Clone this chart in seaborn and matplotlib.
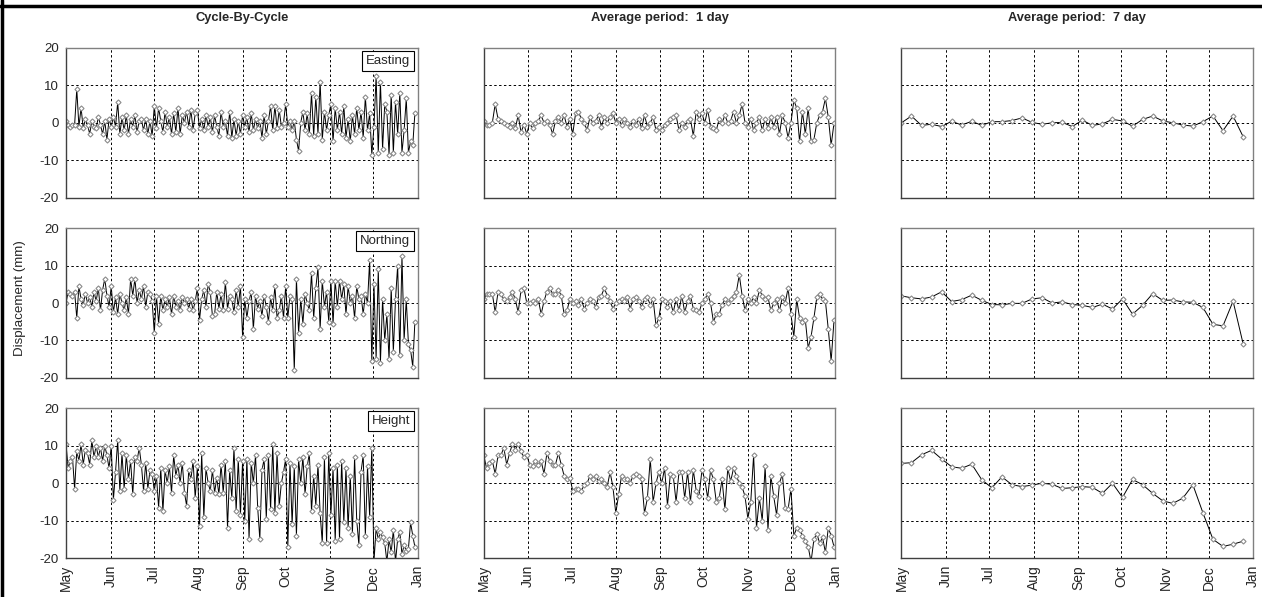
import pandas as pd
import matplotlib
matplotlib.use("Agg")
import matplotlib.pyplot as plt
import matplotlib.dates as mdates
from matplotlib.lines import Line2D
import seaborn as sns

column_titles = ["Cycle-By-Cycle", "Average period:  1 day", "Average period:  7 day"]
components = ["Easting", "Northing", "Height"]
y_ticks = [-20, -10, 0, 10, 20]

START = "2000-05-01"
END = "2001-01-01"

# cycle-by-cycle solutions (one every ~36 h)
cycle_easting = [
    0.5, -0.5, -1, -0.5, -0.5, 9, -1, 4, -1.5, 1, -0.5, -3, 0.5, -1, -1.5, 1.5, -0.5, -3, 0.5, -4.5, 1,
    -1, 1.5, -1, 5.5, -3, 1.5, -2, 2, -3, 1, -1, 2, -2.5, 0.5, 1, -2, 1, -3, 0.5, -3.5,
    4.5, -1.5, 4, 0.5, -2.5, 3, -1, 1.5, -3, 2.5, -2.5, 4, -3, 2, 0, 3, -1, 3.5, -2, 2.5,
    3.5, -1.5, 1, -2, 2, -1, 1.5, -2.5, 2, -1, -3.5, 3, -1, 0.5, -3.5, 3, -4, 1, -3.5, 0.5, -3,
    2, -1, 1.5, -2.5, 2.5, -2, 1, -1.5, 0.5, -4, 2, -3, 0.5, 4.5, -2, 4.5, -1.5, 3.5, -1, 0,
    5, -1, 0.5, -2, 0.5, -4.5, -7.5, 0, 3, -2, 2.5, -3, 8, -3.5, 7, -3, 11, -4.5, 3, -2, 2,
    5, -5, 4, -2, 3, -3, 4.5, -4, 1, -5, 2, -3, 4, -2, 3, -4, 7, -2, 2.5, -8.5,
    -1, 12.5, -8, 11, -7, 5, 3, -8.5, 7.5, -8, 5.5, -3, 8, -8, -2, 6.5, -8, -5, -6, 2.5,
]
cycle_northing = [
    0, 3, 2.5, 2, 3, -4, 4.5, 1, -0.5, 2.5, 0, 1.5, -1, 3, 0.5, 4, -2, 3.5, 6.5, 2, -1,
    4.5, -2.5, 1.5, -3, 2.5, 0, -2, 1.5, -3, 6.5, 2, 6.5, 0, 3.5, 1, 4.5, -1, 3, 2.5, 0.5,
    -8, 2, -5.5, 2, -2, 1, -1, 1.5, -3, 2, -1, 0.5, -2, 1.5, 0, 1, -1.5, 1, -2, 0.5,
    4, -4.5, 1, 3.5, -1, 5, 3, -3.5, -3, 3, -1.5, 2.5, -2, 5.5, -1.5, 2, 1, -2.5, 3.5, -1, 4.5,
    -9, 1, -4, 0.5, 3, -7, 2, -1.5, 0.5, -3.5, 2, -1, -5, 1.5, -2, 4.5, -4, -2, 2, -4,
    4.5, -4, 2, 1, -18, 6.5, -8, 1, -5.5, 2.5, 0, -2, 8, -4, 4, 9.5, -7, 6, -1, 3, -5,
    6, -5.5, 6, -1, 6, 1, 5, -3, 4.5, 0, 2, -4, 4.5, 1, 2, -3, 2.5, 0, 11.5, -15.5,
    5, -15, 9, -16, 1, -10, -3, -15, 4, -13, 1, 10, -14, 12.5, -10, 1, -11, -12.5, -17, -5,
]
cycle_height = [
    10.5, 4, 6, 7, -1.5, 8.5, 6, 10.5, 5, 9, 8, 5, 11.5, 7, 10, 7, 9.5, 6, 10, 7.5, 4,
    10, -4.5, 3, 11.5, -2, 8, -1.5, 7.5, 1, 6, -3, 7, 6, 9.5, 5, -2, 5.5, -1.5, 3.5, 2.5,
    -2, 2, -6.5, 4, -7.5, 3.5, 0, 4.5, -2.5, 7.5, 2, 5, 0, 5.5, -2.5, -6, 3.5, 1, 6, -4,
    4.5, -11.5, 8, -9, 4, 0, -2, 3.5, -2.5, 1.5, -3, 5, -2.5, 6, -12, 3.5, -4, 9.5, -7.5, 6.5, -8.5,
    6, -10, 6.5, -15, 5.5, 0, 7.5, -6.5, -15, 3.5, 6.5, -9.5, 7.5, -7, 10.5, -8, 8, -6, 0, 3,
    6.5, -17, 5.5, -11, 4.5, -14, 6.5, 0, 7, -3, 4.5, 8, -7.5, 2, -6, 5, -8, -16, 7, -16, 8,
    -8.5, 4, -15.5, 5, -15, 6, -10.5, 4, -12, 2, -13.5, 7, -10, -16.5, 3, 7.5, -14, 4.5, -9, 9.5,
    -21, -12, -15, -13, -14.5, -16, -21, -15, -18.5, -12.5, -21, -15, -13, -19, -16.5, -18, -17.5, -10.5, -14, -17,
]

# daily averages (every other day shown)
day_easting = [
    0.5, -0.5, -0.5, 0, 5, 1, 0.5, 0, -0.5, -1, 0, -1.5, 2, -2.5, -0.5, -3,
    0, -1.5, 0, 0.5, 2, 0, 0.5, -0.5, -3, 0.5, 1.5, 0, 2, -1, 1,
    -3, 2.5, 3, 1, 0, -2, 1.5, 0, 0.5, 2, -1, 1.5, 0, 1.5, 2.5,
    0, 1, -0.5, 1, 0, -1, 0.5, -0.5, 1, -1.5, 2, -1, 0, 1.5, -2, -1,
    -2, -0.5, 0, 1, 1.5, 2, -2, 0, -1, 0.5, 1, -3.5, 3, 1, 2.5,
    0, 3.5, -1, -1.5, -2, 1, 0, 2, 0, 0.5, 3, 0, 2, 5, 0,
    -1, 1, -2, 0, 1.5, -2, 1, -1.5, 1.5, -1, 1.5, -3, 2, 0, -4,
    0, 6, 4, -5, 3, -3, 4, -5, -4.5, 0, 2, 3, 6.5, 1.5, -6, 0,
]
day_northing = [
    1, 2.5, 2.5, 2.5, -2.5, 3, 2.5, 1, 0.5, 1.5, 3, 1, -2.5, 3.5, 4, 0,
    0, 0.5, 0, 1, -3, 0.5, 3, 4, 2.5, 2.5, 3.5, 2, -3, -2, 1,
    0, 0.5, -0.5, 1, -1.5, 0, 1, 0.5, -1, 1.5, 2, 4, 2, 0.5, -1.5,
    0, 0.5, 1, 0.5, 1.5, -1.5, 1, 1.5, 0.5, -1, 1, 1.5, -0.5, 1, -6, -4,
    1, 0.5, -1, 0.5, -2.5, 1, -2, 2, -2.5, 0.5, 2, -1.5, -2, -2.5, 0,
    1, 2.5, 0, -5, -3, -3, -0.5, 1, 0, 1, 2, 3, 7.5, 2, -2,
    1, 0, 1.5, 0, 3.5, 2, 1, 1.5, -2, 0, 1, -2, 1.5, 0, 4,
    -3, -9, 1, -4, -5, -4.5, -12, -9, -4, 1.5, 2.5, 1, 0.5, -7, -15.5, -4.5,
]
day_height = [
    7.5, 4, 5.5, 6, 2.5, 7.5, 7.5, 9.5, 5, 8, 10.5, 9, 10.5, 8.5, 7, 7.5,
    5, 4.5, 6, 5, 6, 2.5, 8, 6, 5, 5, 8, 5, 2, 1, 1.5,
    -2, -1.5, -1.5, -2, -0.5, 0, 2, 1, 2, 0.5, 1, 0, -1, 3, -1,
    -8, -3, 2, 1, 1, 0, 2, 2.5, 2, 1, -8, -4, 6.5, -5, 0, 3,
    0, 4, -6, 2.5, 2, -5, 3, 3, -4, 3, -5, 3.5, -2, -3.5, 3.5,
    1, -4, 3.5, 1, -5, -4, 1, -7, 4, 0.5, 4, 2, 0, -1, -3.5,
    -9.5, -5, 7.5, -12, -4, -10, 4.5, -12.5, 2, -3.5, -8.5, 0, 2.5, -6.5, -7,
    -1.5, -14, -12, -12.5, -14, -15.5, -17, -21, -15, -13.5, -16, -14.5, -18.5, -12, -14, -17,
]

# weekly averages
week_easting = [
    0, 1.8, -0.7, -0.4, -1, 0.4, -0.6, 0.4, -0.7, 0.3, 0.3, 0.6, 1.3, 0.1, -0.4, 0, 0.1, -1,
    0.7, -0.7, -0.3, 0.9, 0.5, -0.9, 0.9, 1.8, 0.5, 0, -0.6, -0.9, 0.3, 1.8, -2.1, 1.8, -3.7,
]
week_northing = [
    1.9, 1.4, 1.1, 1.6, 3, 0.4, 0.9, 2.1, 0.7, -0.4, -0.5, -0.1, -0.1, 1.1, 1.4, 0, 0.3, -0.4,
    -0.6, -1.2, -0.3, -1.6, 1.1, -3, -0.6, 2.5, 0.7, 0.8, 0.3, 0.2, -1.2, -5.7, -6.1, 0.5, -10.9,
]
week_height = [
    5.3, 5.5, 7.6, 8.8, 6.5, 4.4, 4.0, 5.1, 0.9, -1.2, 1.7, -0.4, -0.9, -0.5, 0, -0.3, -1.4, -1.2,
    -0.9, -1.1, -2.7, 0, -3.8, 1, -0.4, -2.7, -4.7, -5.4, -4, -0.4, -7.9, -15, -16.9, -16.3, -15.5,
]

series = [
    [(cycle_easting, "36h"), (day_easting, "2D"), (week_easting, "7D")],
    [(cycle_northing, "36h"), (day_northing, "2D"), (week_northing, "7D")],
    [(cycle_height, "36h"), (day_height, "2D"), (week_height, "7D")],
]

sns.set_style("white")
plt.rcParams["font.family"] = ["Liberation Sans", "DejaVu Sans"]
plt.rcParams["axes.unicode_minus"] = False

fig, axes = plt.subplots(3, 3, figsize=(12.62, 5.97), dpi=100)
fig.subplots_adjust(left=0.0523, right=0.993, top=0.9196, bottom=0.0653,
                    wspace=0.1875, hspace=0.205)

for r in range(3):
    for c in range(3):
        ax = axes[r, c]
        values, freq = series[r][c]
        df = pd.DataFrame({
            "time": pd.date_range(START, periods=len(values), freq=freq),
            "disp": values,
        })
        sns.lineplot(data=df, x="time", y="disp", ax=ax, estimator=None,
                     color="black", linewidth=0.7, marker="D", markersize=2.6,
                     markerfacecolor="white", markeredgecolor="#8a8a8a",
                     markeredgewidth=0.8)

        ax.set_xlim(pd.Timestamp(START), pd.Timestamp(END))
        ax.set_ylim(-20, 20)
        ax.set_yticks(y_ticks)
        ax.xaxis.set_major_locator(mdates.MonthLocator())
        ax.xaxis.set_major_formatter(mdates.DateFormatter("%b"))
        ax.grid(True, color="black", linestyle=(0, (2.5, 2.5)), linewidth=0.7)
        ax.set_xlabel("")
        ax.set_ylabel("")

        for side in ["top", "right"]:
            ax.spines[side].set_color("#808080")
        for side in ["left", "bottom"]:
            ax.spines[side].set_color("#404040")
        for sp in ax.spines.values():
            sp.set_linewidth(1.0)

        show_x = r == 2
        show_y = c == 0
        ax.tick_params(axis="x", direction="out", length=3 if show_x else 0,
                       labelbottom=show_x, labelsize=10, rotation=90, pad=2)
        ax.tick_params(axis="y", direction="out", length=3 if show_y else 0,
                       labelleft=show_y, labelsize=9.5, pad=2)

        if c == 0:
            ax.text(0.978, 0.955, components[r], transform=ax.transAxes,
                    ha="right", va="top", fontsize=9.5,
                    bbox=dict(boxstyle="square,pad=0.3", facecolor="white",
                              edgecolor="black", linewidth=0.8))

for c in range(3):
    pos = axes[0, c].get_position()
    fig.text((pos.x0 + pos.x1) / 2, 1 - 18 / 597, column_titles[c],
             ha="center", va="center", fontsize=9.3, fontweight="bold")

fig.text(20 / 1262, 0.5, "Displacement (mm)", rotation=90,
         ha="center", va="center", fontsize=9.6)

# outer frame lines along the top and left edge
fig.add_artist(Line2D([0, 1], [1 - 5.5 / 597, 1 - 5.5 / 597], color="black",
                      linewidth=2.5, transform=fig.transFigure))
fig.add_artist(Line2D([1.5 / 1262, 1.5 / 1262], [0, 1], color="black",
                      linewidth=2.5, transform=fig.transFigure))

fig.savefig("out.png", dpi=100)
